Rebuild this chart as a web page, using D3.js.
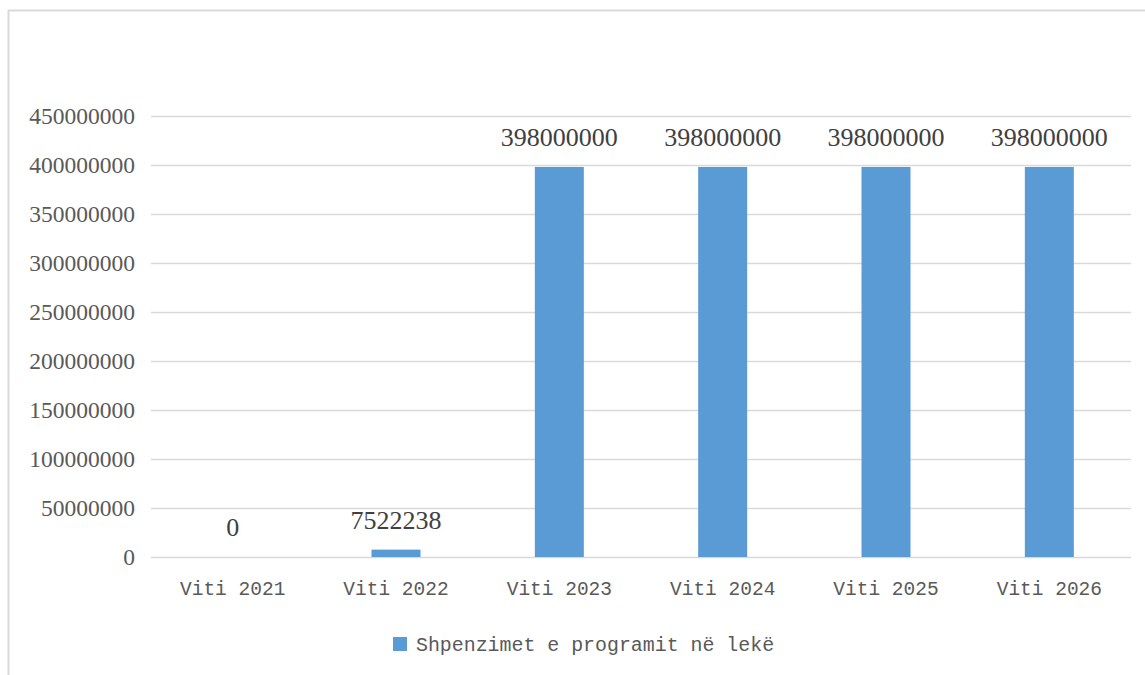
<!DOCTYPE html>
<html>
<head>
<meta charset="utf-8">
<script src="https://cdn.jsdelivr.net/npm/d3@7"></script>
<style>
  html, body { margin: 0; padding: 0; background: #fff; }
</style>
</head>
<body>
<svg id="chart" width="1145" height="675"></svg>
<script>
const categories = ["Viti 2021", "Viti 2022", "Viti 2023", "Viti 2024", "Viti 2025", "Viti 2026"];
const values = [0, 7522238, 398000000, 398000000, 398000000, 398000000];
const yTicks = [0, 50000000, 100000000, 150000000, 200000000, 250000000, 300000000, 350000000, 400000000, 450000000];
const seriesName = "Shpenzimet e programit në lekë";

const svg = d3.select("#chart");
const margin = { left: 151, right: 1131, top: 116, bottom: 557 };
const numFont = "'Liberation Serif', 'Times New Roman', serif";
const monoFont = "'Liberation Mono', 'Courier New', monospace";
const textColor = "#595959";

// frame (left and top edges visible)
svg.append("line").attr("x1", 8.5).attr("x2", 8.5).attr("y1", 10).attr("y2", 675)
  .attr("stroke", "#d9d9d9").attr("stroke-width", 2);
svg.append("line").attr("x1", 8).attr("x2", 1145).attr("y1", 10.5).attr("y2", 10.5)
  .attr("stroke", "#d9d9d9").attr("stroke-width", 2);

const x = d3.scaleBand().domain(categories).range([margin.left, margin.right]).paddingInner(0.7).paddingOuter(0.35);
const y = d3.scaleLinear().domain([0, 450000000]).range([margin.bottom, margin.top]);

// gridlines
const yAxis = d3.axisLeft(y).tickValues(yTicks).tickSize(-(margin.right - margin.left)).tickPadding(16).tickFormat(d3.format("d"));
const gy = svg.append("g").attr("transform", `translate(${margin.left},0)`).call(yAxis);
gy.select(".domain").remove();
gy.selectAll(".tick line").attr("stroke", "#d9d9d9").attr("stroke-width", 1.5);
gy.selectAll(".tick text").attr("fill", textColor).attr("font-family", numFont).attr("font-size", "23.5px");

// bars
svg.append("g").selectAll("rect").data(values).join("rect")
  .attr("x", (d, i) => x(categories[i]))
  .attr("width", x.bandwidth())
  .attr("y", d => y(d))
  .attr("height", d => y(0) - y(d))
  .attr("fill", "#5b9bd5");

// value labels
svg.append("g").selectAll("text").data(values).join("text")
  .attr("x", (d, i) => x(categories[i]) + x.bandwidth() / 2)
  .attr("y", d => y(d) - 21)
  .attr("text-anchor", "middle")
  .attr("fill", "#404040")
  .attr("font-family", numFont)
  .attr("font-size", "26px")
  .text(d => d);

// x axis labels
const xAxis = d3.axisBottom(x).tickSize(0).tickPadding(24);
const gx = svg.append("g").attr("transform", `translate(0,${margin.bottom})`).call(xAxis);
gx.select(".domain").remove();
gx.selectAll(".tick text").attr("fill", textColor).attr("font-family", monoFont).attr("font-size", "19.5px");

// legend
const lg = svg.append("g");
lg.append("rect").attr("x", 393).attr("y", 637).attr("width", 14).attr("height", 14).attr("fill", "#5b9bd5");
lg.append("text").attr("x", 416).attr("y", 651).attr("fill", textColor)
  .attr("font-family", monoFont).attr("font-size", "19.9px").text(seriesName);
</script>
</body>
</html>
